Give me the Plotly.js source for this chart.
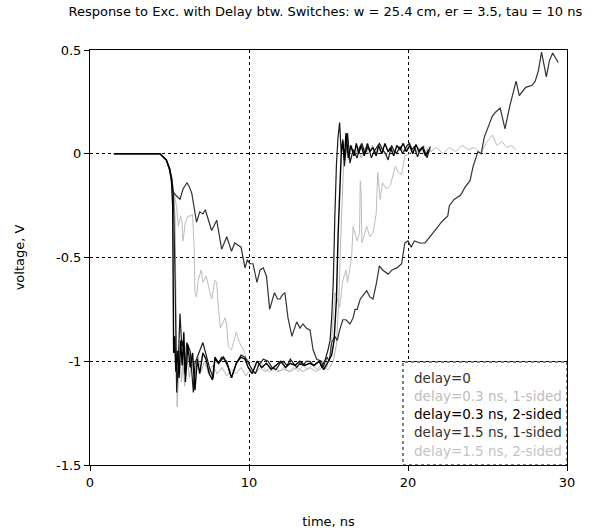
<!DOCTYPE html>
<html>
<head>
<meta charset="utf-8">
<script src="https://cdn.plot.ly/plotly-3.0.1.min.js"></script>
<style>html,body{margin:0;padding:0;background:#fff;}#chart{width:597px;height:532px;}</style>
</head>
<body>
<div id="chart"></div>
<script>
// Series data: [time (ns), voltage (V)]
const delay0 = [[1.5,0],[4.4,0],[4.8,-0.03],[5.0,-0.07],[5.15,-0.12],[5.25,-0.2],[5.35,-0.6],[5.45,-1.15],[5.55,-1.0],[5.66,-0.77],[5.77,-0.93],[5.85,-0.9],[5.97,-1.06],[6.08,-0.91],[6.3,-0.95],[6.5,-1.15],[6.6,-1.01],[6.8,-0.97],[6.9,-0.945],[7.1,-0.91],[7.34,-0.98],[7.55,-1.04],[7.75,-1.08],[7.86,-0.99],[8.07,-1.01],[8.28,-0.98],[8.6,-1.0],[8.9,-1.08],[9.2,-1.01],[9.5,-0.97],[9.75,-0.98],[9.95,-1.01],[10.2,-1.04],[10.4,-1.06],[10.6,-1.02],[10.9,-0.99],[11.2,-1.0],[11.45,-1.03],[11.7,-1.04],[11.95,-1.01],[12.15,-1.0],[12.4,-1.02],[12.6,-0.99],[12.8,-1.01],[13.0,-1.03],[13.2,-1.01],[13.4,-1.02],[13.6,-1.0],[13.84,-1.0],[14.05,-1.02],[14.26,-1.01],[14.45,-1.0],[14.57,-1.03],[14.8,-0.99],[14.97,-0.945],[15.1,-0.9],[15.2,-0.79],[15.3,-0.62],[15.4,-0.3],[15.5,-0.05],[15.6,0.08],[15.7,0.15],[15.8,0.005],[15.9,0.07],[16.0,-0.06],[16.2,0.10],[16.35,-0.045],[16.55,0.02],[16.8,-0.02],[16.95,0.03],[17.1,0.05],[17.3,0.0],[17.5,0.035],[17.7,-0.02],[17.85,0.01],[18.0,0.03],[18.2,0.05],[18.4,0.02],[18.6,0.0],[18.75,-0.03],[18.97,0.04],[19.15,0.01],[19.3,0.005],[19.5,0.035],[19.65,0.0],[19.8,0.02],[19.95,0.04],[20.1,0.05],[20.25,0.02],[20.4,0.035],[20.6,-0.015],[20.75,0.02],[20.95,0.035],[21.2,-0.02],[21.4,0.035]];

const delay03oneSided = [[1.5,0],[4.4,0],[4.8,-0.03],[5.0,-0.07],[5.2,-0.15],[5.35,-0.3],[5.42,-0.8],[5.48,-1.22],[5.55,-1.1],[5.65,-0.95],[5.75,-1.1],[5.85,-1.0],[5.95,-1.12],[6.1,-0.98],[6.25,-1.08],[6.4,-1.0],[6.6,-1.07],[6.8,-0.98],[7.0,-1.05],[7.2,-1.0],[7.45,-1.06],[7.7,-1.02],[8.0,-1.06],[8.3,-1.03],[8.6,-1.07],[8.9,-1.04],[9.2,-1.06],[9.5,-1.03],[9.8,-1.07],[10.1,-1.04],[10.4,-1.06],[10.7,-1.03],[11.0,-1.05],[11.4,-1.03],[11.8,-1.05],[12.2,-1.04],[12.6,-1.05],[13.0,-1.03],[13.4,-1.05],[13.8,-1.03],[14.2,-1.05],[14.6,-1.03],[15.0,-1.04],[15.3,-1.0],[15.5,-0.92],[15.65,-0.7],[15.75,-0.45],[15.85,-0.2],[15.95,-0.05],[16.1,0.03],[16.25,-0.03],[16.45,0.04],[16.65,-0.01],[16.85,0.03],[17.05,-0.02],[17.3,0.03],[17.5,0.0],[17.75,0.04],[18.0,0.0],[18.3,0.03],[18.6,-0.01],[18.9,0.03],[19.2,0.0],[19.5,0.03],[19.8,0.01],[20.1,0.04],[20.4,0.0],[20.7,0.03],[21.0,0.0],[21.3,0.03],[21.5,0.01]];

const delay03twoSided = [[1.5,0],[4.4,0],[4.8,-0.03],[5.0,-0.07],[5.12,-0.12],[5.2,-0.25],[5.26,-0.96],[5.32,-0.88],[5.4,-1.05],[5.5,-0.95],[5.6,-1.08],[5.7,-0.9],[5.8,-1.02],[5.9,-0.86],[6.0,-1.1],[6.15,-0.92],[6.3,-1.03],[6.45,-0.96],[6.6,-1.14],[6.75,-0.99],[6.9,-1.06],[7.1,-0.96],[7.3,-0.99],[7.5,-1.06],[7.7,-1.09],[7.86,-0.98],[8.1,-1.01],[8.4,-0.98],[8.7,-1.03],[8.9,-1.08],[9.2,-1.01],[9.5,-0.98],[9.75,-0.99],[9.95,-1.03],[10.2,-1.06],[10.5,-1.0],[10.8,-1.03],[11.1,-1.01],[11.4,-1.04],[11.7,-1.02],[12.0,-1.0],[12.3,-1.03],[12.6,-1.01],[12.9,-1.02],[13.2,-1.0],[13.5,-1.02],[13.8,-1.01],[14.1,-1.02],[14.4,-1.0],[14.7,-1.04],[15.0,-1.0],[15.2,-0.97],[15.35,-0.9],[15.5,-0.7],[15.6,-0.4],[15.7,-0.15],[15.8,0.0],[15.9,0.06],[16.0,-0.03],[16.1,0.1],[16.25,-0.02],[16.4,0.04],[16.6,-0.01],[16.75,0.05],[16.9,0.0],[17.05,0.04],[17.25,-0.01],[17.45,0.05],[17.6,0.01],[17.8,0.03],[18.0,-0.01],[18.15,0.04],[18.35,0.0],[18.55,0.05],[18.75,0.01],[18.9,0.03],[19.1,-0.01],[19.3,0.04],[19.5,0.02],[19.7,0.05],[19.9,0.01],[20.1,0.04],[20.3,0.0],[20.5,0.045],[20.7,0.01],[20.9,0.03],[21.1,-0.01],[21.3,0.02]];

const delay15oneSided = [[1.5,0],[4.4,0],[4.8,-0.03],[5.0,-0.08],[5.14,-0.14],[5.2,-0.18],[5.4,-0.2],[5.66,-0.22],[5.85,-0.17],[6.1,-0.14],[6.25,-0.16],[6.4,-0.19],[6.55,-0.26],[6.7,-0.33],[6.9,-0.28],[7.1,-0.29],[7.25,-0.27],[7.4,-0.31],[7.65,-0.37],[7.97,-0.32],[8.1,-0.38],[8.28,-0.46],[8.6,-0.4],[8.9,-0.47],[9.1,-0.43],[9.3,-0.44],[9.5,-0.45],[9.75,-0.55],[9.9,-0.51],[10.05,-0.53],[10.25,-0.53],[10.5,-0.62],[10.7,-0.56],[10.9,-0.55],[11.1,-0.59],[11.3,-0.75],[11.6,-0.67],[11.8,-0.7],[11.95,-0.7],[12.1,-0.68],[12.26,-0.67],[12.45,-0.79],[12.7,-0.88],[13.0,-0.81],[13.2,-0.84],[13.4,-0.82],[13.6,-0.84],[13.84,-0.85],[14.03,-0.945],[14.26,-0.99],[14.57,-1.0],[14.66,-1.03],[14.9,-0.98],[15.05,-1.0],[15.2,-0.91],[15.4,-0.88],[15.55,-0.9],[15.7,-0.85],[15.9,-0.8],[16.1,-0.8],[16.35,-0.82],[16.55,-0.79],[16.67,-0.75],[16.8,-0.75],[17.0,-0.7],[17.2,-0.68],[17.4,-0.66],[17.6,-0.69],[17.8,-0.7],[18.0,-0.63],[18.2,-0.54],[18.4,-0.56],[18.75,-0.58],[19.0,-0.56],[19.3,-0.55],[19.6,-0.53],[19.8,-0.43],[20.0,-0.42],[20.2,-0.45],[20.4,-0.42],[20.75,-0.43],[21.07,-0.43],[21.4,-0.4],[21.8,-0.36],[22.1,-0.33],[22.5,-0.3],[22.6,-0.25],[22.9,-0.22],[23.3,-0.2],[23.6,-0.16],[23.9,-0.13],[24.1,-0.06],[24.4,0.01],[24.6,0.0],[24.8,0.08],[25.0,0.12],[25.3,0.18],[25.5,0.2],[25.8,0.22],[26.1,0.12],[26.4,0.23],[26.8,0.35],[27.0,0.28],[27.4,0.32],[27.8,0.33],[28.0,0.35],[28.2,0.4],[28.4,0.49],[28.7,0.37],[28.9,0.45],[29.1,0.485],[29.45,0.44]];

const delay15twoSided = [[1.5,0],[4.4,0],[4.8,-0.03],[5.0,-0.07],[5.2,-0.15],[5.35,-0.22],[5.45,-0.26],[5.55,-0.35],[5.7,-0.3],[5.77,-0.32],[5.85,-0.42],[6.0,-0.33],[6.17,-0.3],[6.35,-0.3],[6.45,-0.29],[6.55,-0.45],[6.6,-0.67],[6.7,-0.69],[6.8,-0.61],[7.0,-0.56],[7.1,-0.62],[7.3,-0.59],[7.5,-0.66],[7.65,-0.7],[7.86,-0.61],[7.97,-0.62],[8.05,-0.72],[8.2,-0.84],[8.5,-0.79],[8.6,-0.83],[8.7,-0.93],[8.9,-0.945],[9.2,-0.86],[9.4,-0.91],[9.65,-0.945],[9.85,-0.99],[10.1,-1.0],[10.4,-1.03],[10.7,-1.0],[11.0,-1.04],[11.3,-1.05],[11.6,-1.02],[11.9,-1.05],[12.2,-1.03],[12.5,-1.05],[12.8,-1.03],[13.1,-1.05],[13.4,-1.02],[13.7,-1.04],[14.0,-1.02],[14.3,-1.04],[14.6,-1.01],[14.9,-1.03],[15.1,-0.97],[15.25,-0.85],[15.4,-0.67],[15.55,-0.7],[15.7,-0.74],[15.9,-0.61],[16.1,-0.56],[16.2,-0.62],[16.45,-0.5],[16.55,-0.35],[16.8,-0.42],[16.95,-0.38],[17.0,-0.13],[17.05,-0.19],[17.1,-0.43],[17.4,-0.35],[17.6,-0.4],[17.8,-0.38],[18.0,-0.29],[18.1,-0.09],[18.25,-0.22],[18.4,-0.14],[18.65,-0.17],[18.9,-0.15],[19.2,-0.06],[19.4,-0.09],[19.6,-0.1],[19.8,-0.01],[20.1,0.0],[20.4,0.03],[20.7,0.0],[21.0,0.04],[21.4,0.01],[21.8,0.03],[22.2,0.0],[22.6,0.03],[23.0,0.01],[23.4,0.04],[23.8,0.02],[24.2,0.03],[24.6,0.0],[24.9,0.05],[25.3,0.09],[25.6,0.04],[25.9,0.06],[26.2,0.03],[26.5,0.04],[26.8,0.02]];

const seriesNames = ['delay=0','delay=0.3 ns, 1-sided','delay=0.3 ns, 2-sided','delay=1.5 ns, 1-sided','delay=1.5 ns, 2-sided'];
const seriesData = [delay0, delay03oneSided, delay03twoSided, delay15oneSided, delay15twoSided];
const xTicks = [0,10,20,30];
const yTicks = [-1.5,-1,-0.5,0,0.5];
const yTickText = ['-1.5','-1','-0.5','0','0.5'];

const lineColors = ['#1a1a1a','#b4b4b4','#000000','#333333','#bdbdbd'];
const lineWidths = [1.2,1,1.4,1.2,1];
const legendColors = ['#333333','#bdbdbd','#000000','#333333','#c4c4c4'];

// draw order: light ones first so dark ones sit on top
const order = [4,1,3,0,2];
const traces = order.map(i => ({
  type:'scatter', mode:'lines', name: seriesNames[i],
  x: seriesData[i].map(p=>p[0]), y: seriesData[i].map(p=>p[1]),
  line:{color:lineColors[i], width:lineWidths[i]}, showlegend:false, hoverinfo:'skip'
}));

const font = 'DejaVu Sans, Verdana, sans-serif';
const legendY = [378,396,414,432,451];
const annotations = seriesNames.map((n,i)=>({
  text:n, xref:'paper', yref:'paper', x:(412-90)/477, y:(465-legendY[i])/415,
  xanchor:'left', yanchor:'middle', showarrow:false,
  font:{family:font, size:13.5, color:legendColors[i]}
}));

const axisCommon = {
  showgrid:true, gridcolor:'#000', griddash:'dot', gridwidth:1,
  showline:true, linecolor:'#000', linewidth:1, mirror:true,
  ticks:'outside', ticklen:5, tickcolor:'#000', zeroline:false,
  tickfont:{family:font, size:13, color:'#000'}
};

const layout = {
  width:597, height:532,
  margin:{l:90, r:30, t:50, b:67},
  paper_bgcolor:'#fff', plot_bgcolor:'#fff',
  title:{text:'Response to Exc. with Delay btw. Switches: w = 25.4 cm, er = 3.5, tau = 10 ns',
         font:{family:font, size:13, color:'#000'}, x:0.545, xref:'container', xanchor:'center', y:1, yref:'container', yanchor:'top', pad:{t:7}},
  xaxis:Object.assign({}, axisCommon, {range:[0,30], tickvals:xTicks,
    title:{text:'time, ns', font:{family:font, size:13, color:'#000'}, standoff:28}}),
  yaxis:Object.assign({}, axisCommon, {range:[-1.5,0.5], tickvals:yTicks, ticktext:yTickText,
    title:{text:'voltage, V', font:{family:font, size:13, color:'#000'}, standoff:28}}),
  shapes:[{type:'rect', xref:'paper', yref:'paper', x0:(403-90)/477, x1:1, y0:0, y1:(465-362)/415,
           fillcolor:'#fff', line:{color:'#000', width:1, dash:'dot'}, layer:'above'}],
  annotations: annotations,
  showlegend:false
};

Plotly.newPlot('chart', traces, layout, {displayModeBar:false, staticPlot:true});
</script>
</body>
</html>
